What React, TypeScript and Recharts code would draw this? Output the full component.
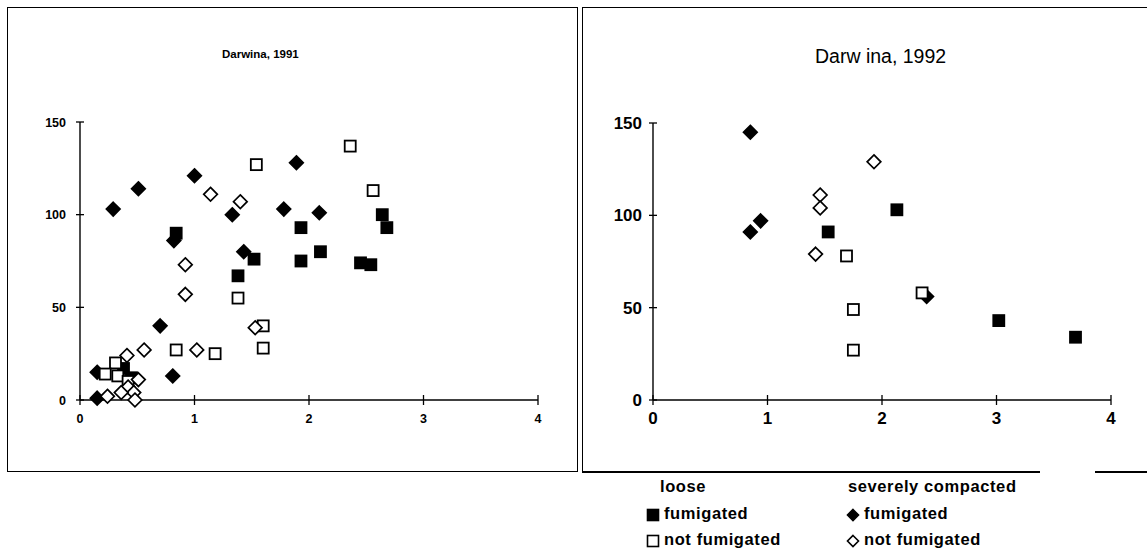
import React from 'react';
import { ScatterChart, Scatter, XAxis, YAxis } from 'recharts';

type Pt = { x: number; y: number };

const xTicks = [0, 1, 2, 3, 4];
const yTicks = [0, 50, 100, 150];

// Darwina, 1991
const looseFum1991: Pt[] = [
  { x: 0.84, y: 90 }, { x: 1.38, y: 67 }, { x: 1.52, y: 76 }, { x: 1.93, y: 93 },
  { x: 1.93, y: 75 }, { x: 2.1, y: 80 }, { x: 2.45, y: 74 }, { x: 2.54, y: 73 },
  { x: 2.64, y: 100 }, { x: 2.68, y: 93 }, { x: 0.38, y: 17 }, { x: 0.45, y: 12 },
];
const looseNotFum1991: Pt[] = [
  { x: 1.54, y: 127 }, { x: 2.36, y: 137 }, { x: 2.56, y: 113 }, { x: 1.38, y: 55 },
  { x: 1.6, y: 40 }, { x: 1.6, y: 28 }, { x: 0.84, y: 27 }, { x: 1.18, y: 25 },
  { x: 0.31, y: 20 }, { x: 0.22, y: 14 }, { x: 0.33, y: 13 }, { x: 0.42, y: 10 },
];
const severeFum1991: Pt[] = [
  { x: 0.29, y: 103 }, { x: 0.51, y: 114 }, { x: 1.0, y: 121 }, { x: 1.33, y: 100 },
  { x: 1.43, y: 80 }, { x: 0.7, y: 40 }, { x: 0.81, y: 13 }, { x: 0.15, y: 15 },
  { x: 0.15, y: 1 }, { x: 1.78, y: 103 }, { x: 1.89, y: 128 }, { x: 2.09, y: 101 },
  { x: 0.82, y: 86 },
];
const severeNotFum1991: Pt[] = [
  { x: 1.14, y: 111 }, { x: 1.4, y: 107 }, { x: 0.92, y: 73 }, { x: 0.92, y: 57 },
  { x: 0.56, y: 27 }, { x: 1.02, y: 27 }, { x: 1.53, y: 39 }, { x: 0.41, y: 24 },
  { x: 0.51, y: 11 }, { x: 0.42, y: 7 }, { x: 0.47, y: 4 }, { x: 0.24, y: 2 },
  { x: 0.36, y: 4 }, { x: 0.48, y: 0 },
];

// Darwina, 1992
const looseFum1992: Pt[] = [
  { x: 1.53, y: 91 }, { x: 2.13, y: 103 }, { x: 3.02, y: 43 }, { x: 3.69, y: 34 },
];
const looseNotFum1992: Pt[] = [
  { x: 1.69, y: 78 }, { x: 1.75, y: 49 }, { x: 1.75, y: 27 }, { x: 2.35, y: 58 },
];
const severeFum1992: Pt[] = [
  { x: 0.85, y: 145 }, { x: 0.85, y: 91 }, { x: 0.94, y: 97 }, { x: 2.39, y: 56 },
];
const severeNotFum1992: Pt[] = [
  { x: 1.46, y: 111 }, { x: 1.46, y: 104 }, { x: 1.42, y: 79 }, { x: 1.93, y: 129 },
];

const FONT = '"Liberation Sans", Arial, Helvetica, sans-serif';

const makeShape = (kind: 'sq' | 'di', filled: boolean, size: number) => (p: any) => {
  const { cx, cy } = p;
  if (cx == null || cy == null) return <g />;
  const fill = filled ? '#000' : '#fff';
  if (kind === 'sq') {
    const h = size / 2;
    return <rect x={cx - h} y={cy - h} width={size} height={size} fill={fill} stroke="#000" strokeWidth={1.8} />;
  }
  const r = size * 0.62;
  return (
    <polygon
      points={`${cx},${cy - r} ${cx + r},${cy} ${cx},${cy + r} ${cx - r},${cy}`}
      fill={fill}
      stroke="#000"
      strokeWidth={1.7}
    />
  );
};

type PanelProps = {
  left: number;
  width: number;
  margin: { top: number; right: number; bottom: number; left: number };
  fontSize: number;
  gapY: number;
  gapX: number;
  mk: number;
  looseFum: Pt[];
  looseNotFum: Pt[];
  severeFum: Pt[];
  severeNotFum: Pt[];
};

const Panel = (pp: PanelProps) => {
  const YTick = (props: any) => {
    const { x, y, payload } = props;
    const ax = x + pp.gapY;
    return (
      <g>
        <line x1={ax - 4} x2={ax + 4} y1={y} y2={y} stroke="#000" strokeWidth={1.3} />
        <text x={x} y={y} dy="0.36em" textAnchor="end" fontSize={pp.fontSize} fontWeight="bold" fontFamily={FONT} fill="#000">
          {payload.value}
        </text>
      </g>
    );
  };
  const XTick = (props: any) => {
    const { x, y, payload } = props;
    const ay = y - pp.gapX;
    return (
      <g>
        <line x1={x} x2={x} y1={ay - 5} y2={ay + 5} stroke="#000" strokeWidth={1.3} />
        <text x={x} y={y} dy="0.71em" textAnchor="middle" fontSize={pp.fontSize} fontWeight="bold" fontFamily={FONT} fill="#000">
          {payload.value}
        </text>
      </g>
    );
  };
  return (
    <div style={{ position: 'absolute', left: pp.left, top: 7 }}>
      <ScatterChart width={pp.width} height={465} margin={pp.margin}>
        <XAxis
          type="number"
          dataKey="x"
          domain={[0, 4]}
          ticks={xTicks}
          height={30}
          tickSize={0}
          tickMargin={pp.gapX}
          tickLine={false}
          tick={<XTick />}
          axisLine={{ stroke: '#000', strokeWidth: 1.4 }}
          interval={0}
        />
        <YAxis
          type="number"
          dataKey="y"
          domain={[0, 150]}
          ticks={yTicks}
          width={40}
          tickSize={0}
          tickMargin={pp.gapY}
          tickLine={false}
          tick={<YTick />}
          axisLine={{ stroke: '#000', strokeWidth: 1.4 }}
          interval={0}
        />
        <Scatter name="severely compacted fumigated" data={pp.severeFum} isAnimationActive={false} shape={makeShape('di', true, pp.mk)} />
        <Scatter name="loose fumigated" data={pp.looseFum} isAnimationActive={false} shape={makeShape('sq', true, pp.mk)} />
        <Scatter name="loose not fumigated" data={pp.looseNotFum} isAnimationActive={false} shape={makeShape('sq', false, pp.mk)} />
        <Scatter name="severely compacted not fumigated" data={pp.severeNotFum} isAnimationActive={false} shape={makeShape('di', false, pp.mk)} />
      </ScatterChart>
    </div>
  );
};

const txt = (s: React.CSSProperties): React.CSSProperties => ({
  position: 'absolute',
  fontFamily: FONT,
  color: '#000',
  whiteSpace: 'nowrap',
  lineHeight: 1,
  ...s,
});

const LegendMark = ({ kind, filled }: { kind: 'sq' | 'di'; filled: boolean }) => (
  <svg width={14} height={14} style={{ display: 'inline-block', verticalAlign: 'middle', marginRight: 4 }}>
    {kind === 'sq' ? (
      <rect x={1.5} y={1.5} width={11} height={11} fill={filled ? '#000' : '#fff'} stroke="#000" strokeWidth={1.6} />
    ) : (
      <polygon points="7,1.5 12.5,7 7,12.5 1.5,7" fill={filled ? '#000' : '#fff'} stroke="#000" strokeWidth={1.6} />
    )}
  </svg>
);

const legendStyle = { fontSize: 16.5, fontWeight: 'bold' as const, letterSpacing: 0.6 };

export default function App() {
  return (
    <div style={{ position: 'absolute', left: 0, top: 0, width: 1147, height: 557, overflow: 'hidden', background: '#fff' }}>
      {/* panel frames */}
      <div style={{ position: 'absolute', left: 7, top: 7, width: 571, height: 465, border: '1.5px solid #000', boxSizing: 'border-box' }} />
      <div style={{ position: 'absolute', left: 582, top: 7, width: 600, height: 465, borderLeft: '1.5px solid #000', borderTop: '1.5px solid #000', boxSizing: 'border-box' }} />
      <div style={{ position: 'absolute', left: 582, top: 471, width: 458, height: 1.5, background: '#000' }} />
      <div style={{ position: 'absolute', left: 1095, top: 471, width: 60, height: 1.5, background: '#000' }} />

      <Panel
        left={7}
        width={571}
        margin={{ top: 115, right: 40, bottom: 42, left: 33 }}
        fontSize={12.5}
        gapY={14}
        gapX={14}
        mk={11}
        looseFum={looseFum1991}
        looseNotFum={looseNotFum1991}
        severeFum={severeFum1991}
        severeNotFum={severeNotFum1991}
      />
      <Panel
        left={582}
        width={565}
        margin={{ top: 116, right: 36, bottom: 42, left: 31 }}
        fontSize={17}
        gapY={11}
        gapX={12}
        mk={11}
        looseFum={looseFum1992}
        looseNotFum={looseNotFum1992}
        severeFum={severeFum1992}
        severeNotFum={severeNotFum1992}
      />

      <div style={txt({ left: 222, top: 49, fontSize: 11.5, fontWeight: 'bold' })}>Darwina, 1991</div>
      <div style={txt({ left: 815, top: 47, fontSize: 19.5 })}>Darw ina, 1992</div>

      <div style={txt({ left: 660, top: 478, ...legendStyle })}>loose</div>
      <div style={txt({ left: 646, top: 505, ...legendStyle })}><LegendMark kind="sq" filled />fumigated</div>
      <div style={txt({ left: 646, top: 531, ...legendStyle })}><LegendMark kind="sq" filled={false} />not fumigated</div>
      <div style={txt({ left: 848, top: 478, ...legendStyle })}>severely compacted</div>
      <div style={txt({ left: 846, top: 505, ...legendStyle })}><LegendMark kind="di" filled />fumigated</div>
      <div style={txt({ left: 846, top: 531, ...legendStyle })}><LegendMark kind="di" filled={false} />not fumigated</div>
    </div>
  );
}
